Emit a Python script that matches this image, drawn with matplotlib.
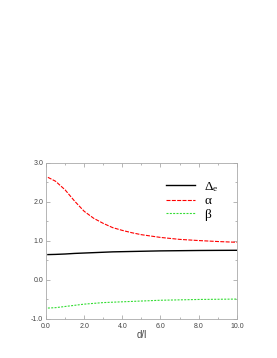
import matplotlib
matplotlib.use("Agg")
import matplotlib.pyplot as plt
from matplotlib.ticker import MultipleLocator, FormatStrFormatter

plt.rcParams['font.family'] = ['Liberation Sans', 'DejaVu Sans']

d = [0.1, 0.5, 1.0, 1.5, 2.0, 2.5, 3.0, 3.5, 4.0, 4.5, 5.0, 6.0, 7.0, 8.0, 9.0, 10.0]
delta_e = [0.65, 0.655, 0.665, 0.68, 0.69, 0.70, 0.71, 0.72, 0.725, 0.73, 0.735, 0.745, 0.75, 0.755, 0.758, 0.76]
alpha = [2.63, 2.53, 2.31, 2.02, 1.76, 1.58, 1.45, 1.34, 1.27, 1.21, 1.16, 1.09, 1.04, 1.01, 0.985, 0.965]
beta = [-0.72, -0.71, -0.68, -0.65, -0.62, -0.60, -0.58, -0.57, -0.56, -0.55, -0.54, -0.52, -0.51, -0.50, -0.495, -0.49]

fig = plt.figure(figsize=(2.77, 3.58), dpi=100)
ax = fig.add_axes([0.166, 0.109, 0.689, 0.436])

ax.plot(d, delta_e, color="black", lw=1.0, label=r"$\mathregular{\Delta_e}$")
ax.plot(d, alpha, color="red", lw=0.8, dashes=(3.6, 1.2), label="α")
ax.plot(d, beta, color="#33dd33", lw=0.8, dashes=(1.8, 1.2), label="β")

ax.set_xlim(0, 10)
ax.set_ylim(-1, 3)
ax.xaxis.set_major_locator(MultipleLocator(2))
ax.xaxis.set_minor_locator(MultipleLocator(1))
ax.yaxis.set_major_locator(MultipleLocator(1))
ax.yaxis.set_minor_locator(MultipleLocator(0.5))
ax.xaxis.set_major_formatter(FormatStrFormatter("%.1f"))
ax.yaxis.set_major_formatter(FormatStrFormatter("%.1f"))
ax.tick_params(which="both", direction="in", top=True, right=True,
               labelsize=5, colors="#999999", labelcolor="#444444", width=0.5)
ax.tick_params(axis="x", which="major", pad=2.6)
ax.tick_params(axis="y", which="major", pad=2.0)
ax.tick_params(which="major", length=3)
ax.tick_params(which="minor", length=1.5)
for s in ax.spines.values():
    s.set_color("#aaaaaa")
    s.set_linewidth(0.6)
ax.set_xlabel("d/l", fontsize=7, labelpad=0, color="#444444")

leg = ax.legend(loc="upper left", frameon=False, handlelength=2.2,
                prop={"family": ["Liberation Serif", "DejaVu Serif"], "size": 9.5},
                handletextpad=0.7, labelspacing=0.1, borderpad=0, borderaxespad=0,
                bbox_to_anchor=(0.63, 0.89))

fig.savefig("out.png", dpi=100)
